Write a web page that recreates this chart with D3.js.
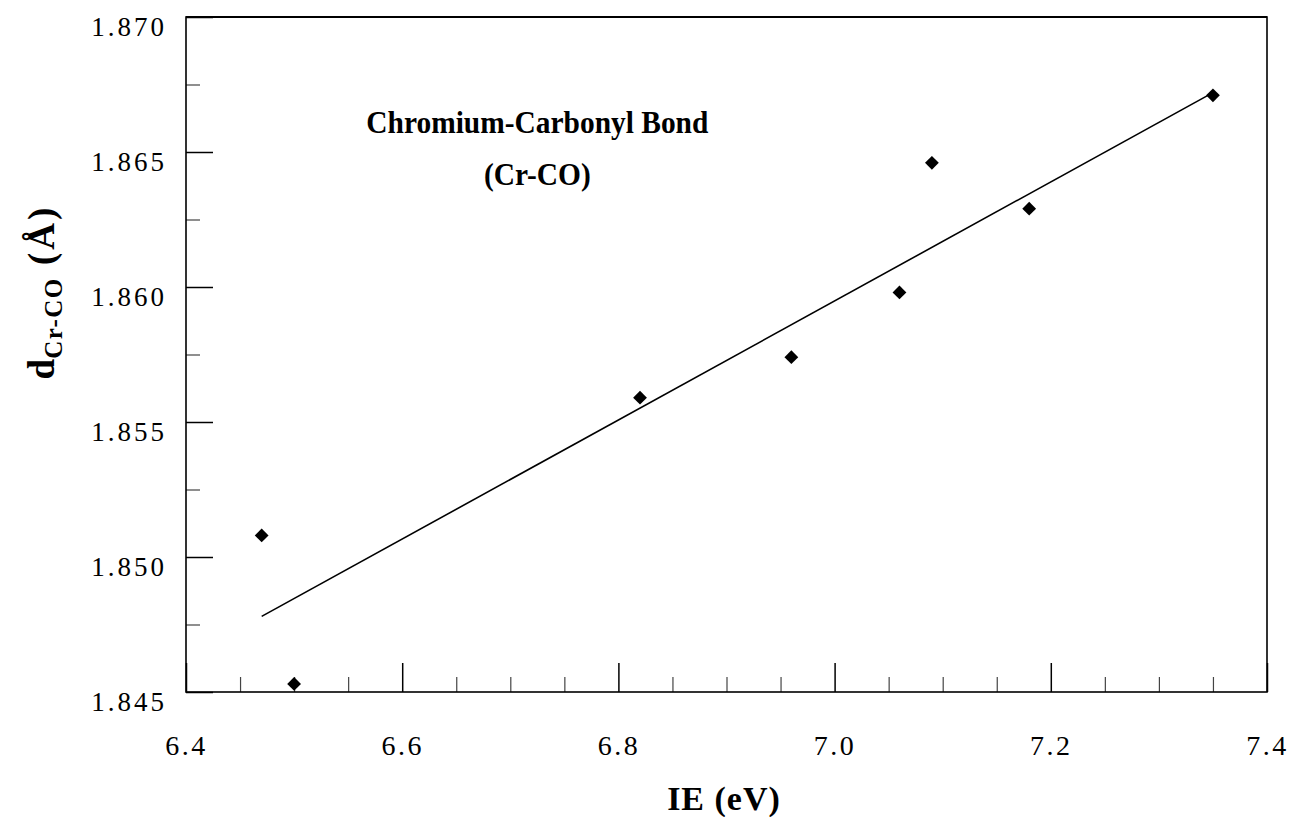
<!DOCTYPE html>
<html>
<head>
<meta charset="utf-8">
<script src="https://cdn.jsdelivr.net/npm/d3@7"></script>
<style>
  html, body { margin: 0; padding: 0; background: #fff; }
  svg { display: block; }
  text { font-family: "Liberation Serif", "Times New Roman", serif; fill: #000; }
</style>
</head>
<body>
<svg id="chart" width="1291" height="817"></svg>
<script>
// Ionization energy (eV) vs. Cr–CO bond length (Å)
const ieValues    = [6.47, 6.50, 6.82, 6.96, 7.06, 7.09, 7.18, 7.35];
const bondLengths = [1.8508, 1.8453, 1.8559, 1.8574, 1.8598, 1.8646, 1.8629, 1.8671];

// Least-squares trend line end points
const fitIE   = [6.47, 7.35];
const fitBond = [1.8478, 1.8672];

// Axis ticks
const xMajorTicks = [6.4, 6.6, 6.8, 7.0, 7.2, 7.4];
const xMinorTicks = [6.45, 6.5, 6.55, 6.65, 6.7, 6.75, 6.85, 6.9, 6.95, 7.05, 7.1, 7.15, 7.25, 7.3, 7.35];
const yMajorTicks = [1.845, 1.850, 1.855, 1.860, 1.865, 1.870];
const yMinorTicks = [1.8475, 1.8525, 1.8575, 1.8625, 1.8675];

const titleLines = ["Chromium-Carbonyl Bond", "(Cr-CO)"];

const W = 1291, H = 817;
const margin = { top: 17, right: 24, bottom: 125, left: 186 };
const iw = W - margin.left - margin.right;
const ih = H - margin.top - margin.bottom;

const svg = d3.select("#chart");
const g = svg.append("g").attr("transform", `translate(${margin.left},${margin.top})`);

const x = d3.scaleLinear().domain([6.4, 7.4]).range([0, iw]);
const y = d3.scaleLinear().domain([1.845, 1.870]).range([ih, 0]);

// minor ticks (inward)
g.append("g")
  .attr("transform", `translate(0,${ih})`)
  .call(d3.axisBottom(x).tickValues(xMinorTicks).tickSizeInner(-15).tickSizeOuter(0).tickFormat(""))
  .call(s => s.select(".domain").remove())
  .call(s => s.selectAll("line").attr("stroke", "#444").attr("stroke-width", 1.2));

g.append("g")
  .call(d3.axisLeft(y).tickValues(yMinorTicks).tickSizeInner(-14).tickSizeOuter(0).tickFormat(""))
  .call(s => s.select(".domain").remove())
  .call(s => s.selectAll("line").attr("stroke", "#444").attr("stroke-width", 1.2));

// major ticks with labels
const xAxis = g.append("g")
  .attr("transform", `translate(0,${ih})`)
  .call(d3.axisBottom(x).tickValues(xMajorTicks).tickSizeInner(-29).tickSizeOuter(0)
        .tickPadding(43).tickFormat(d3.format(".1f")));
xAxis.select(".domain").remove();
xAxis.selectAll("line").attr("stroke", "#000").attr("stroke-width", 1.5);
xAxis.selectAll("text")
  .attr("font-family", "Liberation Serif")
  .attr("font-size", 28)
  .attr("letter-spacing", 2.5)
  .attr("fill", "#000");

const yAxis = g.append("g")
  .call(d3.axisLeft(y).tickValues(yMajorTicks).tickSizeInner(-27).tickSizeOuter(0)
        .tickPadding(19).tickFormat(d3.format(".3f")));
yAxis.select(".domain").remove();
yAxis.selectAll("line").attr("stroke", "#000").attr("stroke-width", 1.5);
yAxis.selectAll("text")
  .attr("font-family", "Liberation Serif")
  .attr("font-size", 27)
  .attr("letter-spacing", 3)
  .attr("dy", "0.68em")
  .attr("fill", "#000");

// plot frame
g.append("rect")
  .attr("x", 0).attr("y", 0).attr("width", iw).attr("height", ih)
  .attr("fill", "none").attr("stroke", "#000").attr("stroke-width", 1.6);
g.append("line")
  .attr("x1", 0).attr("x2", iw).attr("y1", 0).attr("y2", 0)
  .attr("stroke", "#000").attr("stroke-width", 2.2);

// trend line
const fitData = fitIE.map((v, i) => [v, fitBond[i]]);
g.append("path")
  .datum(fitData)
  .attr("fill", "none")
  .attr("stroke", "#000")
  .attr("stroke-width", 1.6)
  .attr("d", d3.line().x(d => x(d[0])).y(d => y(d[1])));

// data points (diamonds)
const pts = ieValues.map((v, i) => ({ ie: v, d: bondLengths[i] }));
g.selectAll(".pt")
  .data(pts)
  .join("path")
  .attr("class", "pt")
  .attr("d", d3.symbol(d3.symbolSquare, 95))
  .attr("transform", d => `translate(${x(d.ie)},${y(d.d)}) rotate(45)`)
  .attr("fill", "#000");

// in-plot title (narrow bold serif)
const tcx = x(6.725);
const title = g.append("g").attr("transform", `translate(${tcx},0) scale(0.92,1)`);
title.selectAll("text")
  .data(titleLines)
  .join("text")
  .attr("x", 0)
  .attr("y", (d, i) => 116 + i * 52)
  .attr("text-anchor", "middle")
  .attr("font-weight", "bold")
  .attr("font-size", 32)
  .text(d => d);

// x axis title
svg.append("text")
  .attr("x", 724)
  .attr("y", 810)
  .attr("text-anchor", "middle")
  .attr("font-weight", "bold")
  .attr("font-size", 34)
  .attr("letter-spacing", 1)
  .text("IE (eV)");

// y axis title
const yt = svg.append("text")
  .attr("transform", "translate(54,292) rotate(-90)")
  .attr("text-anchor", "middle")
  .attr("font-weight", "bold")
  .attr("font-size", 37);
yt.append("tspan").text("d");
yt.append("tspan").attr("font-size", 25).attr("dy", 8).attr("letter-spacing", 1.5).text("Cr-CO");
yt.append("tspan").attr("dy", -8).attr("letter-spacing", 3).text(" (Å)");
</script>
</body>
</html>
